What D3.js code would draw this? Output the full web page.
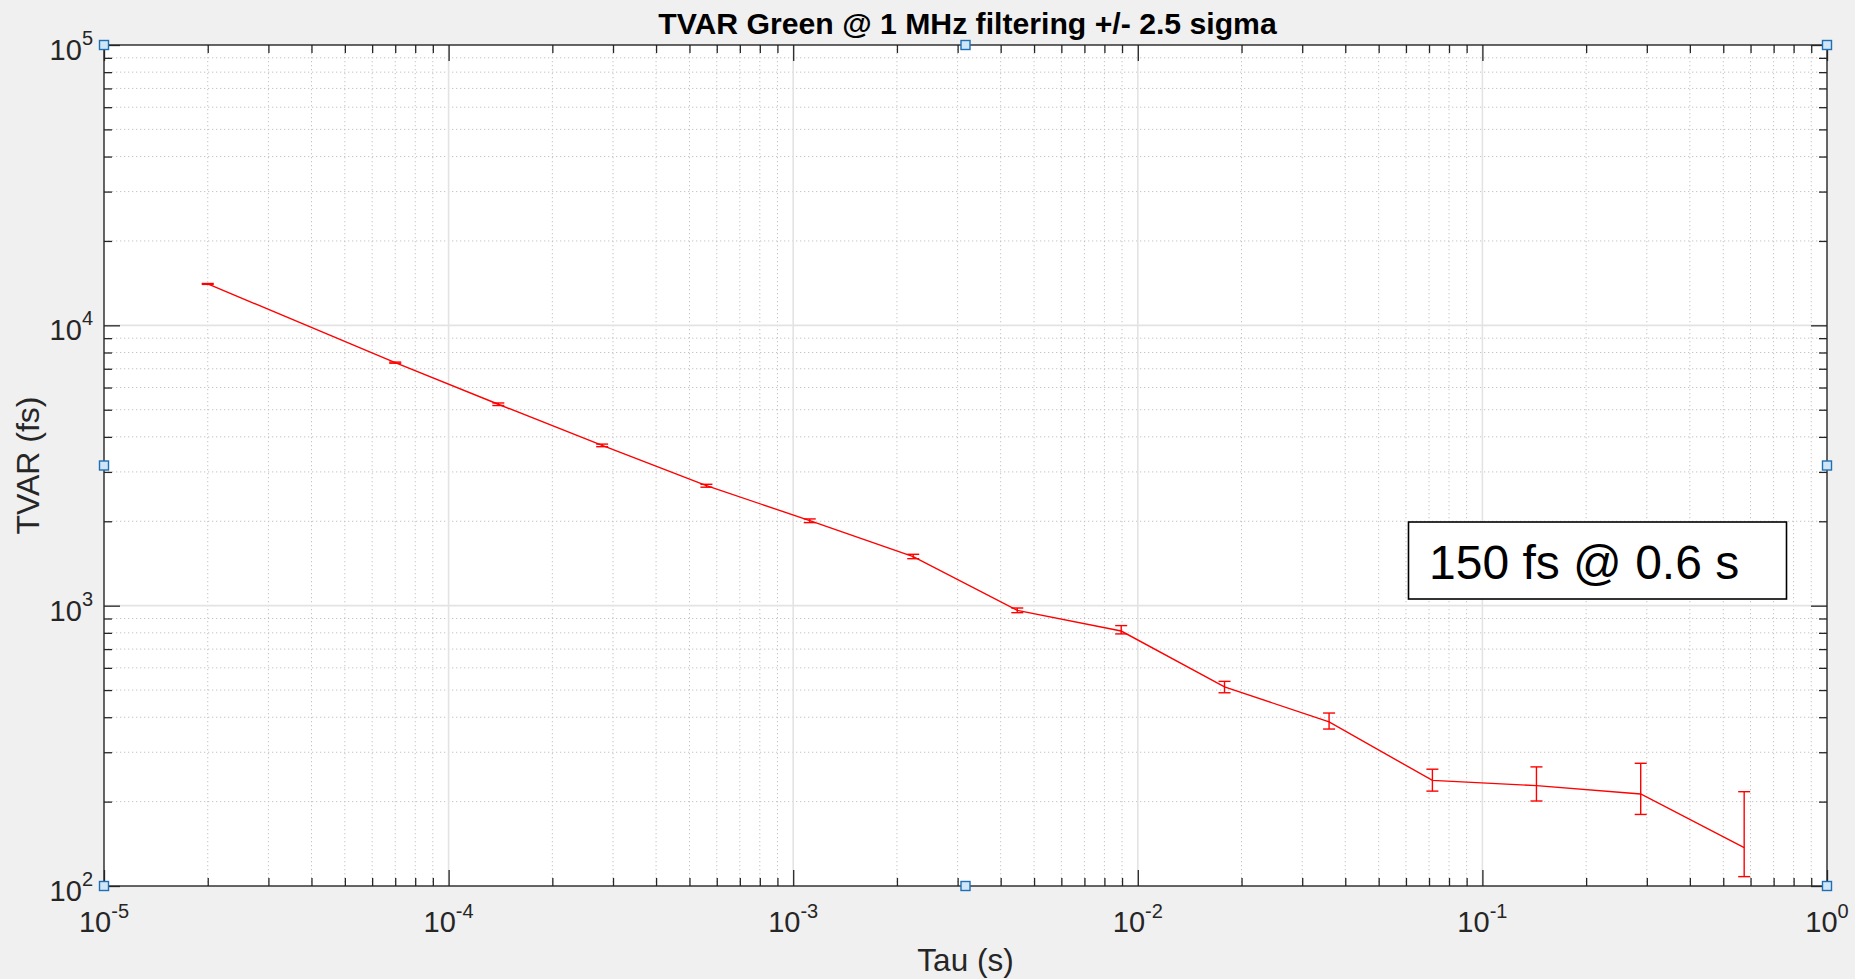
<!DOCTYPE html>
<html>
<head>
<meta charset="utf-8">
<script src="https://cdn.jsdelivr.net/npm/d3@7"></script>
<style>
  html, body { margin: 0; padding: 0; background: #f0f0f0; }
  svg { display: block; font-family: "Liberation Sans", Arial, Helvetica, sans-serif; }
</style>
</head>
<body>
<svg id="chart" width="1855" height="979"></svg>
<script>
// Averaging time (s)
const tau = [2.0e-5, 7.0e-5, 1.394e-4, 2.79e-4, 5.6e-4, 1.117e-3, 2.23e-3, 4.47e-3,
             8.95e-3, 1.785e-2, 3.59e-2, 7.16e-2, 0.1435, 0.288, 0.575];
// Time variance (fs)
const tvar = [14050, 7360, 5230, 3730, 2680, 2011, 1496, 962,
              812, 513, 385, 238, 228, 213, 137];
// Error bar bounds (fs)
const tvarLow = [14000, 7325, 5175, 3690, 2646, 1978, 1471, 944,
                 793, 489, 363, 218, 201, 180, 108];
const tvarHigh = [14100, 7395, 5285, 3770, 2710, 2039, 1525, 981,
                  849, 537, 414, 261, 266, 274, 217];

// Axis ticks
const xMajor = [1e-5, 1e-4, 1e-3, 1e-2, 1e-1, 1];
const xExp = ["-5", "-4", "-3", "-2", "-1", "0"];
const yMajor = [1e2, 1e3, 1e4, 1e5];
const yExp = ["2", "3", "4", "5"];

const titleText = "TVAR Green @ 1 MHz filtering +/- 2.5 sigma";
const xLabel = "Tau (s)";
const yLabel = "TVAR (fs)";
const noteText = "150 fs @ 0.6 s";

const m = { left: 104, right: 1827, top: 45, bottom: 886 };
const ink = "#262626";

const svg = d3.select("#chart");

const x = d3.scaleLog().domain([1e-5, 1]).range([m.left, m.right]);
const y = d3.scaleLog().domain([1e2, 1e5]).range([m.bottom, m.top]);

// minor tick values (2..9 within each decade)
function minors(domain) {
  const out = [];
  const lo = Math.round(Math.log10(domain[0])), hi = Math.round(Math.log10(domain[1]));
  for (let e = lo; e < hi; e++) for (let k = 2; k <= 9; k++) out.push(k * Math.pow(10, e));
  return out;
}
const xMinor = minors(x.domain());
const yMinor = minors(y.domain());

// plot background
svg.append("rect").attr("x", m.left).attr("y", m.top)
  .attr("width", m.right - m.left).attr("height", m.bottom - m.top).attr("fill", "#ffffff");

// grid
const grid = svg.append("g");
grid.selectAll(".gxm").data(xMinor).join("line")
  .attr("x1", d => x(d)).attr("x2", d => x(d)).attr("y1", m.top).attr("y2", m.bottom)
  .attr("stroke", "#c4c4c4").attr("stroke-width", 1).attr("stroke-dasharray", "1.3,2.7");
grid.selectAll(".gym").data(yMinor).join("line")
  .attr("y1", d => y(d)).attr("y2", d => y(d)).attr("x1", m.left).attr("x2", m.right)
  .attr("stroke", "#c4c4c4").attr("stroke-width", 1).attr("stroke-dasharray", "1.3,2.7");
grid.selectAll(".gxM").data(xMajor.slice(1, -1)).join("line")
  .attr("x1", d => x(d)).attr("x2", d => x(d)).attr("y1", m.top).attr("y2", m.bottom)
  .attr("stroke", "#e3e3e3").attr("stroke-width", 1.6);
grid.selectAll(".gyM").data(yMajor.slice(1, -1)).join("line")
  .attr("y1", d => y(d)).attr("y2", d => y(d)).attr("x1", m.left).attr("x2", m.right)
  .attr("stroke", "#e3e3e3").attr("stroke-width", 1.6);

// data line
const pts = tau.map((t, i) => ({ t, v: tvar[i], lo: tvarLow[i], hi: tvarHigh[i] }));
svg.append("path").datum(pts)
  .attr("fill", "none").attr("stroke", "#ff0000").attr("stroke-width", 1.4)
  .attr("d", d3.line().x(d => x(d.t)).y(d => y(d.v)));

// error bars
const cap = 6;
const eb = svg.append("g").attr("stroke", "#ff0000").attr("stroke-width", 1.4);
eb.selectAll(".v").data(pts).join("line")
  .attr("x1", d => x(d.t)).attr("x2", d => x(d.t)).attr("y1", d => y(d.lo)).attr("y2", d => y(d.hi));
eb.selectAll(".ct").data(pts).join("line")
  .attr("x1", d => x(d.t) - cap).attr("x2", d => x(d.t) + cap).attr("y1", d => y(d.hi)).attr("y2", d => y(d.hi));
eb.selectAll(".cb").data(pts).join("line")
  .attr("x1", d => x(d.t) - cap).attr("x2", d => x(d.t) + cap).attr("y1", d => y(d.lo)).attr("y2", d => y(d.lo));

// axes: box with inward ticks on all four sides
function styleAxis(g) {
  g.select(".domain").remove();
  g.selectAll(".tick line").attr("stroke", ink).attr("stroke-width", 1.3);
  g.selectAll(".tick text").remove();
}
const majLen = 16, minLen = 8;
svg.append("g").attr("transform", `translate(0,${m.bottom})`)
  .call(d3.axisBottom(x).tickValues(xMajor).tickSize(-majLen).tickFormat("")).call(styleAxis);
svg.append("g").attr("transform", `translate(0,${m.bottom})`)
  .call(d3.axisBottom(x).tickValues(xMinor).tickSize(-minLen).tickFormat("")).call(styleAxis);
svg.append("g").attr("transform", `translate(0,${m.top})`)
  .call(d3.axisTop(x).tickValues(xMajor).tickSize(-majLen).tickFormat("")).call(styleAxis);
svg.append("g").attr("transform", `translate(0,${m.top})`)
  .call(d3.axisTop(x).tickValues(xMinor).tickSize(-minLen).tickFormat("")).call(styleAxis);
svg.append("g").attr("transform", `translate(${m.left},0)`)
  .call(d3.axisLeft(y).tickValues(yMajor).tickSize(-majLen).tickFormat("")).call(styleAxis);
svg.append("g").attr("transform", `translate(${m.left},0)`)
  .call(d3.axisLeft(y).tickValues(yMinor).tickSize(-minLen).tickFormat("")).call(styleAxis);
svg.append("g").attr("transform", `translate(${m.right},0)`)
  .call(d3.axisRight(y).tickValues(yMajor).tickSize(-majLen).tickFormat("")).call(styleAxis);
svg.append("g").attr("transform", `translate(${m.right},0)`)
  .call(d3.axisRight(y).tickValues(yMinor).tickSize(-minLen).tickFormat("")).call(styleAxis);

svg.append("rect").attr("x", m.left).attr("y", m.top)
  .attr("width", m.right - m.left).attr("height", m.bottom - m.top)
  .attr("fill", "none").attr("stroke", ink).attr("stroke-width", 1.4);

// tick labels as powers of ten
const tickFont = 29, supFont = 20;
const xl = svg.append("g").attr("fill", ink).attr("font-size", tickFont).attr("text-anchor", "middle");
xMajor.forEach((v, i) => {
  const t = xl.append("text").attr("x", x(v)).attr("y", m.bottom + 46);
  t.append("tspan").text("10");
  t.append("tspan").attr("font-size", supFont).attr("dy", -14).text(xExp[i]);
});
const yl = svg.append("g").attr("fill", ink).attr("font-size", tickFont).attr("text-anchor", "end");
yMajor.forEach((v, i) => {
  const t = yl.append("text").attr("x", m.left - 11).attr("y", y(v) + 15);
  t.append("tspan").text("10");
  t.append("tspan").attr("font-size", supFont).attr("dy", -15).text(yExp[i]);
});

// axis labels and title
svg.append("text").attr("x", (m.left + m.right) / 2).attr("y", 971)
  .attr("text-anchor", "middle").attr("font-size", 31.5).attr("fill", ink).text(xLabel);
svg.append("text").attr("transform", `translate(39,${(m.top + m.bottom) / 2}) rotate(-90)`)
  .attr("text-anchor", "middle").attr("font-size", 32).attr("fill", ink).text(yLabel);
svg.append("text").attr("x", (m.left + m.right) / 2 + 2).attr("y", 34)
  .attr("text-anchor", "middle").attr("font-size", 30.2).attr("font-weight", "bold")
  .attr("fill", "#000000").text(titleText);

// edit handles on the axes box
const hx = [m.left, (m.left + m.right) / 2, m.right];
const hy = [m.top, (m.top + m.bottom) / 2, m.bottom];
const handles = [];
hx.forEach((a, i) => hy.forEach((b, j) => { if (!(i === 1 && j === 1)) handles.push([a, b]); }));
svg.append("g").selectAll("rect").data(handles).join("rect")
  .attr("x", d => d[0] - 4.5).attr("y", d => d[1] - 4.5).attr("width", 9).attr("height", 9)
  .attr("fill", "#cfe6f8").attr("stroke", "#1e6fb4").attr("stroke-width", 1.4);

// annotation
const note = svg.append("g");
note.append("rect").attr("x", 1408.5).attr("y", 522).attr("width", 378).attr("height", 77)
  .attr("fill", "#ffffff").attr("stroke", "#000000").attr("stroke-width", 1.6);
note.append("text").attr("x", 1429).attr("y", 579).attr("font-size", 48)
  .attr("fill", "#000000").text(noteText);
</script>
</body>
</html>
